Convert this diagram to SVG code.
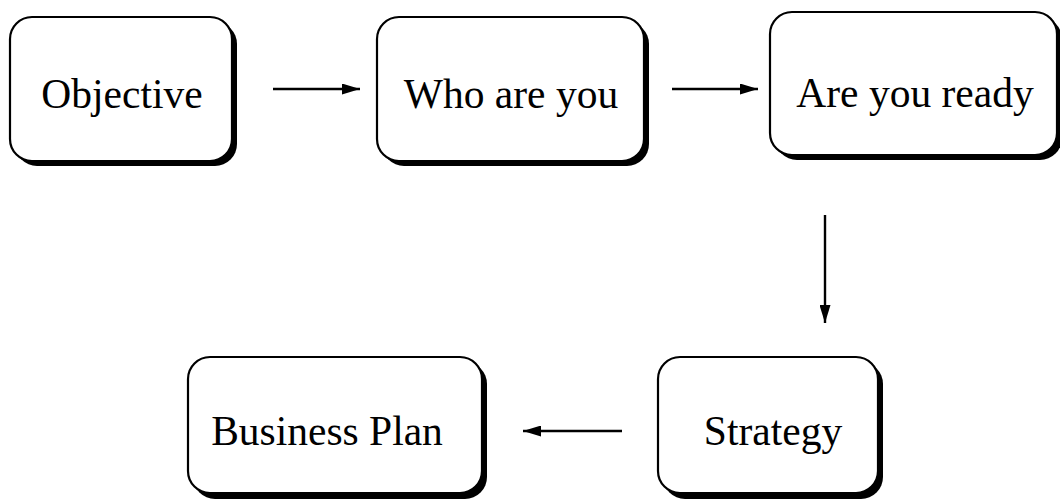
<svg xmlns="http://www.w3.org/2000/svg" width="1060" height="499" viewBox="0 0 1060 499">
<style>
.shadow{fill:#000;stroke:none}
.box{fill:#fff;stroke:#000;stroke-width:2.2}
.lbl{font-family:"Liberation Serif","Times New Roman",serif;font-size:41.5px;fill:#000;text-anchor:middle}
.conn{stroke:#000;stroke-width:2.4;fill:none}
</style>
<defs>
<marker id="ah" viewBox="0 0 18 11" refX="18" refY="5.5" markerWidth="18" markerHeight="11" markerUnits="userSpaceOnUse" orient="auto">
<path d="M0,0 L18,5.5 L0,11 Z" fill="#000"/>
</marker>
</defs>
<rect width="1060" height="499" fill="#fff"/>
<g id="node-objective">
<rect class="shadow" x="15" y="22" width="222" height="144" rx="22"/>
<rect class="box" x="10" y="17" width="222" height="144" rx="22"/>
<text class="lbl" x="122" y="108">Objective</text>
</g>
<g id="node-who">
<rect class="shadow" x="382" y="22" width="267" height="144" rx="22"/>
<rect class="box" x="377" y="17" width="267" height="144" rx="22"/>
<text class="lbl" x="511" y="108">Who are you</text>
</g>
<g id="node-ready">
<rect class="shadow" x="775" y="17" width="287" height="143" rx="22"/>
<rect class="box" x="770" y="12" width="287" height="143" rx="22"/>
<text class="lbl" x="915" y="107">Are you ready</text>
</g>
<g id="node-business">
<rect class="shadow" x="193" y="362" width="294" height="137" rx="22"/>
<rect class="box" x="188" y="357" width="294" height="136" rx="22"/>
<text class="lbl" x="327" y="445">Business Plan</text>
</g>
<g id="node-strategy">
<rect class="shadow" x="663" y="362" width="220" height="137" rx="22"/>
<rect class="box" x="658" y="357" width="220" height="136" rx="22"/>
<text class="lbl" x="773" y="445">Strategy</text>
</g>
<g id="connectors">
<line class="conn" x1="273" y1="89" x2="360" y2="89" marker-end="url(#ah)"/>
<line class="conn" x1="672" y1="89" x2="758" y2="89" marker-end="url(#ah)"/>
<line class="conn" x1="825" y1="215" x2="825" y2="323" marker-end="url(#ah)"/>
<line class="conn" x1="622" y1="431" x2="523" y2="431" marker-end="url(#ah)"/>
</g>
</svg>
